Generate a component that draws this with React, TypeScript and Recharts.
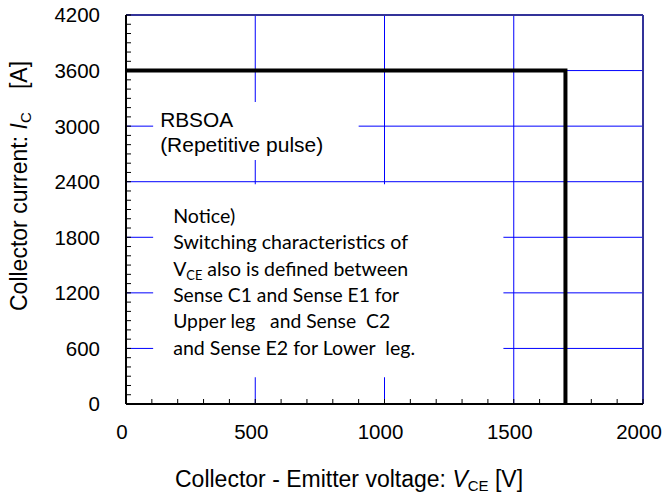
import React from 'react';
import { LineChart, Line, XAxis, YAxis, CartesianGrid, ReferenceLine, ReferenceArea } from 'recharts';

// ---- data ----
const vceVolts = [0, 1700, 1700];
const icAmps = [3600, 3600, 0];

const xTickValues = [0, 100, 200, 300, 400, 500, 600, 700, 800, 900, 1000, 1100, 1200, 1300, 1400, 1500, 1600, 1700, 1800, 1900, 2000];
const xLabelValues = [0, 500, 1000, 1500, 2000];
const yTickValues = [0, 100, 200, 300, 400, 500, 600, 700, 800, 900, 1000, 1100, 1200, 1300, 1400, 1500, 1600, 1700, 1800, 1900, 2000, 2100, 2200, 2300, 2400, 2500, 2600, 2700, 2800, 2900, 3000, 3100, 3200, 3300, 3400, 3500, 3600, 3700, 3800, 3900, 4000, 4100, 4200];
const yLabelValues = [0, 600, 1200, 1800, 2400, 3000, 3600, 4200];
const gridXValues = [500, 1000, 1500];
const gridYValues = [600, 1200, 1800, 2400, 3000, 3600];

const rbsoaLines = ['RBSOA', '(Repetitive pulse)'];
const noticeLines = [
  'Notice)',
  'Switching characteristics of',
  'VCE also is defined between',
  'Sense C1 and Sense E1 for',
  'Upper leg   and Sense  C2',
  'and Sense E2 for Lower  leg.',
];

// box extents (data space) for the two annotation boxes
const rbsoaBox = { x1: 105, x2: 900, y1: 2635, y2: 3260 };
const noticeBox = { x1: 105, x2: 1460, y1: 290, y2: 2372 };

const data = vceVolts.map((v, i) => ({ vce: v, ic: icAmps[i] }));

const ARIAL = "'Liberation Sans', Arial, sans-serif";
const CALIBRI = "Lato, 'Open Sans', sans-serif";
const GRID = '#0000ff';
const BORDER = '#333399';

const XTick = (props: any) => {
  const { x, y, payload } = props;
  const v = payload.value;
  const major = xLabelValues.includes(v);
  return (
    <g>
      <line x1={x} x2={x} y1={y} y2={y - 5} stroke="#000" strokeWidth={1} />
      {major && (
        <text x={x - 4} y={y + 35} textAnchor="middle" fontSize={20.5} fontFamily={ARIAL} fill="#000">
          {v}
        </text>
      )}
    </g>
  );
};

const YTick = (props: any) => {
  const { x, y, payload } = props;
  const v = payload.value;
  const major = yLabelValues.includes(v);
  return (
    <g>
      <line x1={x} x2={x + 5} y1={y} y2={y} stroke="#000" strokeWidth={1} />
      {major && (
        <text x={x - 26} y={y} dy="0.36em" textAnchor="end" fontSize={20.5} fontFamily={ARIAL} fill="#000">
          {v}
        </text>
      )}
    </g>
  );
};

const XTitle = (props: any) => {
  const vb = props.viewBox;
  return (
    <text x={vb.x + 49} y={vb.y + 83} fontSize={23} fontFamily={ARIAL} fill="#000" style={{ whiteSpace: 'pre' }}>
      <tspan>{'Collector - Emitter voltage: '}</tspan>
      <tspan fontStyle="italic">V</tspan>
      <tspan fontSize={15} dy={4}>CE</tspan>
      <tspan dy={-4}>{' [V]'}</tspan>
    </text>
  );
};

const YTitle = (props: any) => {
  const vb = props.viewBox;
  const cx = vb.x + 27;
  const cy = 311;
  return (
    <text
      transform={`translate(${cx},${cy}) rotate(-90)`}
      x={0}
      y={0}
      fontSize={23}
      fontFamily={ARIAL}
      fill="#000"
      style={{ whiteSpace: 'pre' }}
    >
      <tspan>{'Collector current: '}</tspan>
      <tspan fontStyle="italic">I</tspan>
      <tspan fontSize={15} dy={4}>C</tspan>
      <tspan dy={-4} dx={4}>{'   [A]'}</tspan>
    </text>
  );
};

const RbsoaLabel = (props: any) => {
  const vb = props.viewBox;
  const widths = [73, 163];
  return (
    <g>
      {rbsoaLines.map((t, i) => (
        <text
          key={i}
          x={vb.x + 7}
          y={vb.y + 25 + i * 24.7}
          fontSize={19.5}
          fontFamily={ARIAL}
          fill="#000"
          textLength={widths[i]}
          lengthAdjust="spacingAndGlyphs"
        >
          {t}
        </text>
      ))}
    </g>
  );
};

const NoticeLabel = (props: any) => {
  const vb = props.viewBox;
  const widths = [62, 235, 235, 226, 217, 242];
  return (
    <g>
      {noticeLines.map((t, i) => {
        const x = vb.x + 20;
        const y = vb.y + 38.5 + i * 26.4;
        if (t.startsWith('VCE')) {
          return (
            <text
              key={i}
              x={x}
              y={y}
              fontSize={19}
              fontFamily={CALIBRI}
              fill="#000"
              style={{ whiteSpace: 'pre' }}
              textLength={widths[i]}
              lengthAdjust="spacingAndGlyphs"
            >
              <tspan>V</tspan>
              <tspan fontSize={12.5} dy={4}>CE</tspan>
              <tspan dy={-4}>{t.slice(3)}</tspan>
            </text>
          );
        }
        return (
          <text
            key={i}
            x={x}
            y={y}
            fontSize={19}
            fontFamily={CALIBRI}
            fill="#000"
            style={{ whiteSpace: 'pre' }}
            textLength={widths[i]}
            lengthAdjust="spacingAndGlyphs"
          >
            {t}
          </text>
        );
      })}
    </g>
  );
};

export default function App() {
  return (
    <div style={{ position: 'absolute', left: 0, top: 0, width: 664, height: 493, background: '#fff' }}>
      <LineChart width={664} height={493} data={data} margin={{ top: 15, right: 21, bottom: 0, left: 0 }}>
        <CartesianGrid
          stroke={GRID}
          strokeWidth={1}
          horizontalValues={gridYValues}
          verticalValues={gridXValues}
          fill="none"
        />
        <XAxis
          dataKey="vce"
          type="number"
          domain={[0, 2000]}
          ticks={xTickValues}
          interval={0}
          allowDataOverflow
          height={89}
          tickSize={0}
          tickMargin={0}
          tickLine={false}
          tick={<XTick />}
          axisLine={{ stroke: '#000', strokeWidth: 2 }}
          label={(p: any) => <XTitle {...p} />}
        />
        <YAxis
          dataKey="ic"
          type="number"
          domain={[0, 4200]}
          ticks={yTickValues}
          interval={0}
          allowDataOverflow
          width={126}
          tickSize={0}
          tickMargin={0}
          tickLine={false}
          tick={<YTick />}
          axisLine={{ stroke: '#000', strokeWidth: 2 }}
          label={(p: any) => <YTitle {...p} />}
        />
        <ReferenceLine y={4200} stroke={BORDER} strokeWidth={2} />
        <ReferenceLine x={2000} stroke={BORDER} strokeWidth={2} />
        <ReferenceArea
          x1={rbsoaBox.x1}
          x2={rbsoaBox.x2}
          y1={rbsoaBox.y1}
          y2={rbsoaBox.y2}
          fill="#fff"
          fillOpacity={1}
          stroke="none"
          label={(p: any) => <RbsoaLabel {...p} />}
        />
        <ReferenceArea
          x1={noticeBox.x1}
          x2={noticeBox.x2}
          y1={noticeBox.y1}
          y2={noticeBox.y2}
          fill="#fff"
          fillOpacity={1}
          stroke="none"
          label={(p: any) => <NoticeLabel {...p} />}
        />
        <Line
          type="linear"
          dataKey="ic"
          stroke="#000"
          strokeWidth={4}
          dot={false}
          activeDot={false}
          isAnimationActive={false}
          strokeLinejoin="miter"
        />
      </LineChart>
    </div>
  );
}
